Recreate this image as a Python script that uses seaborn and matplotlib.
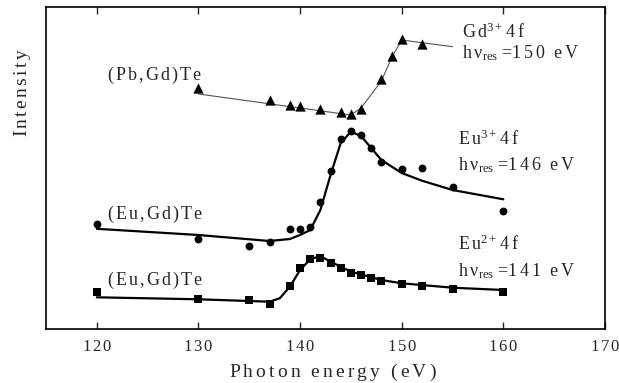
import matplotlib
matplotlib.use("Agg")
import matplotlib.pyplot as plt
import numpy as np
import pandas as pd
import seaborn as sns

# measured points (photon energy in eV, intensity in arbitrary units)
gd_energy = [130, 137, 139, 140, 142, 144, 145, 146, 148, 149, 150, 152]
gd_int = [240.3, 228, 222.7, 222, 219, 216.3, 214, 218.7, 249, 272, 289.3, 284]
gd_fit_energy = [130, 145, 146, 148, 149, 150, 152, 155]
gd_fit_int = [234, 213, 220, 247, 270, 288, 285.3, 281.3]

eu3_energy = [120, 130, 135, 137, 139, 140, 141, 142, 143, 144, 145, 146, 147, 148, 150, 152, 155, 160]
eu3_int = [104, 88.7, 82.3, 85.7, 98.5, 98.7, 100.7, 126, 156.7, 189, 197.3, 193, 180.3, 165.7, 159.3, 159.7, 140.7, 117]
eu3_fit_energy = [120, 130, 137, 139, 140, 141, 142, 143, 144, 145, 146, 148, 150, 152, 155, 160]
eu3_fit_int = [99.2, 93, 87, 89, 93, 98, 118, 153, 185, 196.3, 192, 168, 155, 147.3, 138, 128.7]

eu2_energy = [120, 130, 135, 137, 139, 140, 141, 142, 143, 144, 145, 146, 147, 148, 150, 152, 155, 160]
eu2_int = [36.3, 29, 27.7, 24, 42, 60.3, 68.7, 69.7, 65.3, 60.3, 55.3, 52.7, 50, 47, 44.3, 42.3, 39.3, 36.3]
eu2_fit_energy = [120, 130, 137, 138, 139, 140, 141, 142, 143, 145, 148, 150, 155, 160]
eu2_fit_int = [30.7, 28.7, 26.3, 29.7, 41.3, 58, 68.7, 72, 66.3, 56.3, 48, 44.7, 40.3, 38]

x_ticks = [120, 130, 140, 150, 160, 170]


def spaced(s, gap=r"\,"):
    # letter-spaced roman text via mathtext (the original is typeset with wide tracking)
    repl = {" ": r"\ ", ",": "{,}"}
    chars = [repl.get(c, c) for c in s]
    return r"\mathrm{" + gap.join(chars) + "}"


def hv_res(energy):
    return ("$" + spaced("hν", r"\:") + r"_{\mathrm{res}}$ =$" + spaced(energy, r"\:")
            + r"\ \ " + spaced("eV", r"\:") + "$")


def level(elem, charge):
    return "$" + spaced(elem) + r"^{\mathrm{" + charge + r"}}\," + spaced("4f") + "$"


sns.set_style("ticks")
plt.rcParams['font.family'] = ['Liberation Serif', 'DejaVu Serif']
plt.rcParams['mathtext.fontset'] = 'custom'
plt.rcParams['mathtext.rm'] = 'Liberation Serif'
plt.rcParams['mathtext.it'] = 'Liberation Serif:italic'
plt.rcParams['mathtext.bf'] = 'Liberation Serif:bold'

fig = plt.figure(figsize=(6.19, 3.83), dpi=100)
ax = fig.add_axes([0.0743, 0.141, 0.903, 0.8415])

# fitted curves
sns.lineplot(x=gd_fit_energy, y=gd_fit_int, ax=ax, color="#555555", lw=0.8, sort=False)
sns.lineplot(x=eu3_fit_energy, y=eu3_fit_int, ax=ax, color="black", lw=1.6, sort=False)
sns.lineplot(x=eu2_fit_energy, y=eu2_fit_int, ax=ax, color="black", lw=1.6, sort=False)

# data points
sns.scatterplot(x=gd_energy, y=gd_int, ax=ax, marker="^", s=55, color="black", edgecolor="black", linewidth=0, zorder=3)
sns.scatterplot(x=eu3_energy, y=eu3_int, ax=ax, marker="o", s=32, color="black", edgecolor="black", linewidth=0, zorder=3)
sns.scatterplot(x=eu2_energy, y=eu2_int, ax=ax, marker="s", s=30, color="black", edgecolor="black", linewidth=0, zorder=3)

ax.set_xlim(115, 170)
ax.set_ylim(-1, 321.3)
ax.set_xticks(x_ticks)
ax.set_xticklabels(["$" + spaced(str(t)) + "$" for t in x_ticks])
ax.set_yticks([])
ax.tick_params(axis="x", direction="in", top=True, length=5, width=1, labelsize=12, pad=7)
for sp in ax.spines.values():
    sp.set_linewidth(1.2)
    sp.set_color("black")

ax.set_xlabel("$" + spaced("Photon energy (eV)", r"\:") + "$", fontsize=14)
ax.xaxis.set_label_coords(0.514, -0.102)
ax.set_ylabel("$" + spaced("Intensity") + "$", fontsize=14)
ax.yaxis.set_label_coords(-0.024, 0.733)

# annotations
kw = dict(fontsize=13, va="baseline", ha="left")
ax.text(121.0, 248, "$" + spaced("(Pb,Gd)Te") + "$", **kw)
ax.text(121.0, 109, "$" + spaced("(Eu,Gd)Te") + "$", **kw)
ax.text(121.0, 43, "$" + spaced("(Eu,Gd)Te") + "$", **kw)
ax.text(155.9, 290, level("Gd", "3+"), **kw)
ax.text(155.9, 270, hv_res("150"), **kw)
ax.text(155.55, 183, level("Eu", "3+"), **kw)
ax.text(155.55, 158, hv_res("146"), **kw)
ax.text(155.55, 78, level("Eu", "2+"), **kw)
ax.text(155.55, 52, hv_res("141"), **kw)

fig.savefig("out.png", dpi=100)
